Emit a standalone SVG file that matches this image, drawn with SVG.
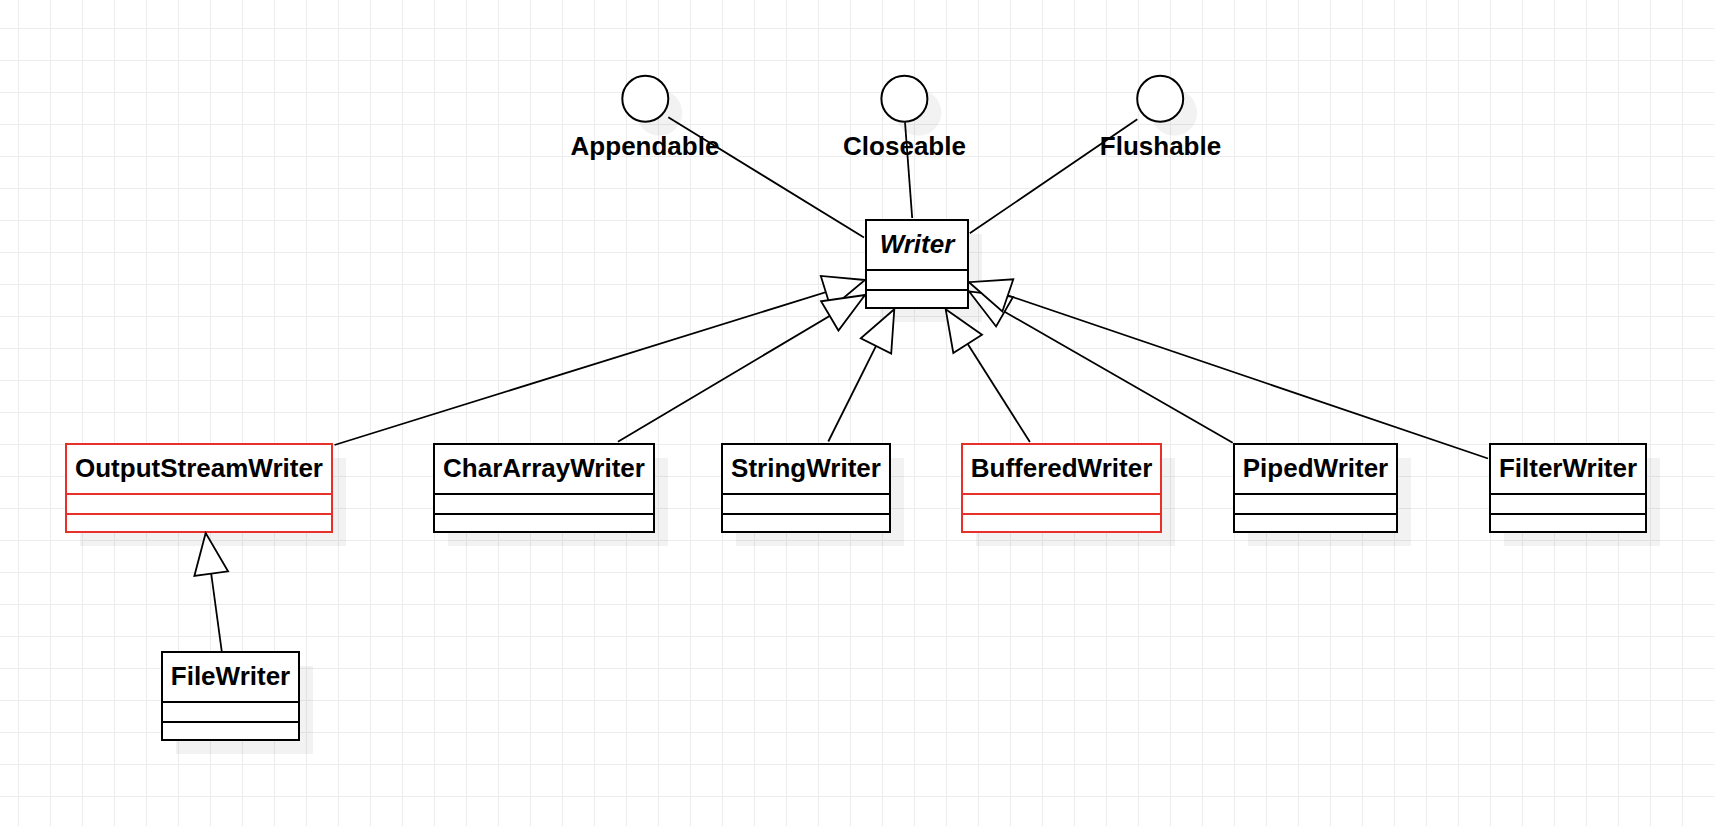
<svg xmlns="http://www.w3.org/2000/svg" width="1714" height="826" viewBox="0 0 1714 826">
<style>
.box{fill:#fff;stroke:#000;stroke-width:2}
.red{stroke:#e8302a}
.div{stroke:#000;stroke-width:2;fill:none}
.divr{stroke:#e8302a;stroke-width:2;fill:none}
.sh{fill:#000;fill-opacity:0.05}
.t{font-family:"Liberation Sans",Arial,Helvetica,sans-serif;font-weight:bold;font-size:26px;text-anchor:middle;fill:#000}
.it{font-style:italic}
.ln{stroke:#000;stroke-width:1.8;fill:none}
.gen{marker-end:url(#tri)}
.ic{fill:#fff;stroke:#000;stroke-width:2}
</style>
<defs>
<pattern id="grid" x="18" y="28" width="32" height="32" patternUnits="userSpaceOnUse">
<rect x="0" y="0" width="32" height="1" fill="#ececec"/>
<rect x="0" y="0" width="1" height="32" fill="#ececec"/>
</pattern>
<marker id="tri" markerUnits="userSpaceOnUse" orient="auto" refX="0" refY="0" markerWidth="50" markerHeight="40" overflow="visible">
<path d="M0,0 L-41,-17 L-41,17 Z" fill="#fff" stroke="#000" stroke-width="1.8" stroke-linejoin="miter"/>
</marker>
</defs>
<rect width="1714" height="826" fill="#fff"/>
<rect width="1714" height="826" fill="url(#grid)"/>

<g id="Appendable">
<circle class="sh" cx="659.3" cy="112.8" r="23"/>
<circle class="ic" cx="645.3" cy="98.8" r="23"/>
<text class="t" x="645" y="155">Appendable</text>
</g>
<g id="Closeable">
<circle class="sh" cx="918.4" cy="112.8" r="23"/>
<circle class="ic" cx="904.4" cy="98.8" r="23"/>
<text class="t" x="904.5" y="155">Closeable</text>
</g>
<g id="Flushable">
<circle class="sh" cx="1174.2" cy="112.8" r="23"/>
<circle class="ic" cx="1160.2" cy="98.8" r="23"/>
<text class="t" x="1160.5" y="155">Flushable</text>
</g>

<g id="Writer">
<rect class="sh" x="880" y="234" width="102" height="88"/>
<rect class="box" x="866" y="220" width="102" height="88"/>
<path class="div" d="M866,270 H968 M866,290 H968"/>
<text class="t it" x="917" y="253">Writer</text>
</g>
<g id="OutputStreamWriter">
<rect class="sh" x="80" y="458" width="266" height="88"/>
<rect class="box red" x="66" y="444" width="266" height="88"/>
<path class="divr" d="M66,494 H332 M66,514 H332"/>
<text class="t" x="199" y="477">OutputStreamWriter</text>
</g>
<g id="CharArrayWriter">
<rect class="sh" x="448" y="458" width="220" height="88"/>
<rect class="box" x="434" y="444" width="220" height="88"/>
<path class="div" d="M434,494 H654 M434,514 H654"/>
<text class="t" x="544" y="477">CharArrayWriter</text>
</g>
<g id="StringWriter">
<rect class="sh" x="736" y="458" width="168" height="88"/>
<rect class="box" x="722" y="444" width="168" height="88"/>
<path class="div" d="M722,494 H890 M722,514 H890"/>
<text class="t" x="806" y="477">StringWriter</text>
</g>
<g id="BufferedWriter">
<rect class="sh" x="976" y="458" width="199" height="88"/>
<rect class="box red" x="962" y="444" width="199" height="88"/>
<path class="divr" d="M962,494 H1161 M962,514 H1161"/>
<text class="t" x="1061.5" y="477">BufferedWriter</text>
</g>
<g id="PipedWriter">
<rect class="sh" x="1248" y="458" width="163" height="88"/>
<rect class="box" x="1234" y="444" width="163" height="88"/>
<path class="div" d="M1234,494 H1397 M1234,514 H1397"/>
<text class="t" x="1315.5" y="477">PipedWriter</text>
</g>
<g id="FilterWriter">
<rect class="sh" x="1504" y="458" width="156" height="88"/>
<rect class="box" x="1490" y="444" width="156" height="88"/>
<path class="div" d="M1490,494 H1646 M1490,514 H1646"/>
<text class="t" x="1568" y="477">FilterWriter</text>
</g>
<g id="FileWriter">
<rect class="sh" x="176" y="666" width="137" height="88"/>
<rect class="box" x="162" y="652" width="137" height="88"/>
<path class="div" d="M162,702 H299 M162,722 H299"/>
<text class="t" x="230.5" y="685">FileWriter</text>
</g>

<g id="connectors">
<path class="ln" d="M668.3,117.3 L864,237.5"/>
<path class="ln" d="M905,122.3 L912.2,218"/>
<path class="ln" d="M1137.3,119.3 L969.8,233.3"/>
<path class="ln gen" d="M334.5,445 L865,280"/>
<path class="ln gen" d="M617.9,441.7 L865,295"/>
<path class="ln gen" d="M828.3,441.5 L894.3,309.3"/>
<path class="ln gen" d="M1029.9,442 L945.7,309.3"/>
<path class="ln gen" d="M1232.7,442.7 L969,291.3"/>
<path class="ln gen" d="M1488,458.5 L969,282.2"/>
<path class="ln gen" d="M221.7,651 L205.7,533"/>
</g>
</svg>
